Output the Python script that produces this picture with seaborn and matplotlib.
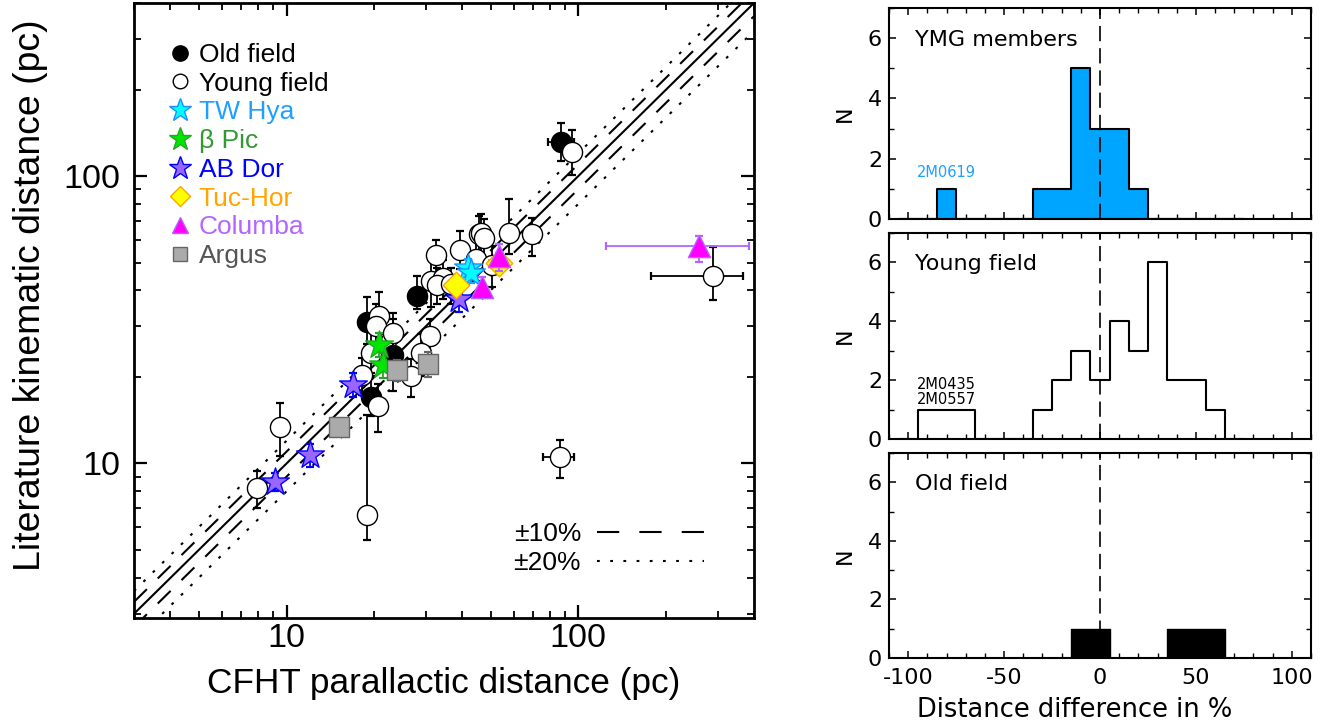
import numpy as np
import matplotlib
matplotlib.use("Agg")
import matplotlib.pyplot as plt
from matplotlib.lines import Line2D
from matplotlib.ticker import LogLocator, NullFormatter, MultipleLocator
from matplotlib import font_manager as fm
import seaborn as sns

# ---------------- data: left panel (parallactic vs kinematic distance, pc) ----
old_par = [87.5, 27.9, 18.9, 23.1, 19.5]
old_kin = [131.0, 38.4, 31.1, 23.9, 17.1]
old_kin_lo = [18.0, 4.0, 5.0, 6.0, 2.5]
old_kin_hi = [22.0, 6.4, 7.0, 8.0, 3.5]
old_par_lo = [9.0, 0, 0, 0, 0]
old_par_hi = [9.0, 0, 0, 0, 0]

young_par = [95.3, 290.0, 86.8, 9.5, 7.9, 18.9, 20.5, 18.2, 20.7, 20.3, 23.2, 19.5,
             30.9, 28.9, 26.7, 32.6, 39.3, 45.5, 46.5, 47.5, 58.0, 69.6, 31.2, 34.3,
             44.7, 50.7, 32.7, 36.5]
young_kin = [121.0, 44.8, 10.5, 13.4, 8.2, 6.6, 15.9, 20.3, 32.5, 30.0, 28.5, 24.2,
             27.7, 24.2, 20.1, 53.3, 55.5, 62.7, 63.5, 61.0, 63.5, 62.7, 43.1, 44.2,
             51.3, 49.2, 41.9, 42.0]
young_kin_lo = [20, 7.9, 1.6, 2.8, 1.2, 1.2, 3, 3, 5, 5, 5, 4,
                4, 4, 3, 8, 8, 9, 9, 9, 10, 10, 8, 7,
                8, 8, 6, 6]
young_kin_hi = [24, 11.9, 1.6, 2.8, 1.2, 8.1, 3, 3, 7, 6, 5, 5,
                4, 4, 3, 6.5, 9, 10, 10, 10, 19.5, 9, 8, 7,
                8, 8, 6, 6]
young_par_lo = [0, 112, 11] + [0] * 25
young_par_hi = [0, 76, 10] + [0] * 25

tw_par = [41.7, 42.8]
tw_kin = [47.9, 46.1]
tw_err = [3.5, 3.5]

bp_par = [20.8, 21.4]
bp_kin = [25.9, 22.0]
bp_err = [2.5, 2.2]

ab_par = [9.1, 12.0, 16.9, 39.1]
ab_kin = [8.64, 10.7, 18.8, 37.2]
ab_err = [0.6, 1.0, 1.8, 3.5]

th_par = [38.1, 53.6]
th_kin = [41.9, 50.0]
th_par_err = [1.5, 4.3]
th_kin_err = [3.0, 4.0]

co_par = [53.6, 46.9, 259.0]
co_kin = [52.6, 41.2, 57.0]
co_kin_lo = [6.0, 3.7, 6.8]
co_kin_hi = [5.2, 3.5, 4.8]
co_par_lo = [0, 0, 135.0]
co_par_hi = [0, 0, 126.0]

ar_par = [15.1, 24.0, 30.5]
ar_kin = [13.4, 21.2, 22.2]
ar_err = [0.8, 1.8, 2.2]

legend_labels = ["Old field", "Young field", "TW Hya", "\u03b2 Pic", "AB Dor",
                 "Tuc-Hor", "Columba", "Argus"]
legend_text_colors = ["black", "black", "#1EA0FF", "#339933", "#0000FF",
                      "#FFA500", "#B266FF", "#555555"]

# ---------------- data: right panels (histograms of distance difference, %) ----
hist_centers = [-100, -90, -80, -70, -60, -50, -40, -30, -20, -10, 0, 10, 20, 30, 40, 50, 60, 70]
bin_edges = [-105, -95, -85, -75, -65, -55, -45, -35, -25, -15, -5, 5, 15, 25, 35, 45, 55, 65, 75]
ymg_counts = [0, 0, 1, 0, 0, 0, 0, 1, 1, 5, 3, 3, 1, 0, 0, 0, 0, 0]
young_counts = [0, 1, 1, 1, 0, 0, 0, 1, 2, 3, 2, 4, 3, 6, 2, 2, 1, 0]
old_counts = [0, 0, 0, 0, 0, 0, 0, 0, 0, 1, 1, 0, 0, 0, 1, 1, 1, 0]
hist_xticks = [-100, -50, 0, 50, 100]
hist_yticks = [0, 2, 4, 6]

# ---------------- style ----------------
sns.set_style("ticks")
plt.rcParams.update({
    "lines.scale_dashes": False,
    "text.color": "black",
    "axes.labelcolor": "black",
    "xtick.color": "black",
    "ytick.color": "black",
    "axes.edgecolor": "black",
    "axes.unicode_minus": False,
})
REG = ["Liberation Sans", "DejaVu Sans"]
RIGHT = ["DejaVu Sans"]
plt.rcParams["font.family"] = RIGHT

_names = {f.name for f in fm.fontManager.ttflist}
if "Liberation Sans Narrow" in _names:
    LEFT_FONT = ["Liberation Sans Narrow", "DejaVu Sans"]
    XLAB_FS, YLAB_FS, TICK_FS = 31, 31.5, 30
else:
    LEFT_FONT = ["Liberation Sans", "DejaVu Sans"]
    XLAB_FS, YLAB_FS, TICK_FS = 25.4, 26.9, 24.6

fig = plt.figure(figsize=(13.34, 7.27), dpi=100)

# ================= left panel =================
axL = fig.add_axes([134 / 1334, 1 - 618 / 727, 620 / 1334, 615 / 727])
axL.set_xscale("log")
axL.set_yscale("log")
axL.set_xlim(3, 400)
axL.set_ylim(2.9, 400)

xs = np.array(axL.get_xlim())
axL.plot(xs, xs, color="black", lw=1.5, zorder=1)
for f in (1.1, 0.9):
    axL.plot(xs, xs * f, color="black", lw=1.5, dashes=(13, 11), zorder=1)
for f in (1.2, 0.8):
    axL.plot(xs, xs * f, color="black", lw=1.5, dashes=(2, 7.5), zorder=1)


def draw_group(px, py, ylo, yhi, xlo, xhi, marker, ms, face, edge, ecolor, z, mew=1.0):
    axL.errorbar(px, py, yerr=[ylo, yhi], xerr=[xlo, xhi], fmt="none", ecolor=ecolor,
                 elinewidth=1.3, capsize=3.2, capthick=1.6, zorder=z)
    sns.scatterplot(x=px, y=py, ax=axL, marker=marker, s=ms ** 2, color=face,
                    edgecolor=edge, linewidth=mew, zorder=z + 0.5, legend=False)


zeros2 = [0, 0]
draw_group(old_par, old_kin, old_kin_lo, old_kin_hi, old_par_lo, old_par_hi,
           "o", 14.5, "black", "black", "black", 3)
draw_group(young_par, young_kin, young_kin_lo, young_kin_hi, young_par_lo, young_par_hi,
           "o", 14.5, "white", "black", "black", 4)
draw_group(tw_par, tw_kin, tw_err, tw_err, zeros2, zeros2,
           "*", 21, "#00FFFF", "#1E90FF", "#1EA0FF", 5)
draw_group(bp_par, bp_kin, bp_err, bp_err, zeros2, zeros2,
           "*", 21, "#00E600", "#22AA22", "#22AA22", 6)
draw_group(ab_par, ab_kin, ab_err, ab_err, [0] * 4, [0] * 4,
           "*", 21, "#9966FF", "#0000FF", "#0000FF", 7)
draw_group(th_par, th_kin, th_kin_err, th_kin_err, th_par_err, th_par_err,
           "D", 13.5, "#FFFF00", "#FFA500", "#FFA500", 8)
draw_group(co_par, co_kin, co_kin_lo, co_kin_hi, co_par_lo, co_par_hi,
           "^", 16, "#FF00FF", "#B266FF", "#B266FF", 9)
draw_group(ar_par, ar_kin, ar_err, ar_err, [0] * 3, [0] * 3,
           "s", 14, "#AAAAAA", "#666666", "#666666", 10)

axL.set_xlim(3, 400)
axL.set_ylim(2.9, 400)
axL.xaxis.set_minor_locator(LogLocator(base=10, subs=range(2, 10), numticks=20))
axL.yaxis.set_minor_locator(LogLocator(base=10, subs=range(2, 10), numticks=20))
axL.xaxis.set_minor_formatter(NullFormatter())
axL.yaxis.set_minor_formatter(NullFormatter())
axL.set_xticks([10, 100], labels=["10", "100"], fontfamily=LEFT_FONT, fontsize=TICK_FS)
axL.set_yticks([10, 100], labels=["10", "100"], fontfamily=LEFT_FONT, fontsize=TICK_FS)
axL.tick_params(which="major", direction="in", top=True, right=True, length=9.5, width=1.6)
axL.tick_params(which="minor", direction="in", top=True, right=True, length=5, width=1.3)
axL.tick_params(axis="x", which="major", pad=3.5)
axL.tick_params(axis="y", which="major", pad=10)
for sp in axL.spines.values():
    sp.set_linewidth(2.0)
    sp.set_visible(True)
axL.set_xlabel("CFHT parallactic distance (pc)", fontsize=XLAB_FS, fontfamily=LEFT_FONT)
axL.xaxis.set_label_coords(0.5, -0.08)
axL.set_ylabel("Literature kinematic distance (pc)", fontsize=YLAB_FS, fontfamily=LEFT_FONT)
axL.yaxis.set_label_coords(-0.139, 0.525)

# legend with groups
handles = [
    Line2D([], [], ls="none", marker="o", ms=11, mfc="black", mec="black"),
    Line2D([], [], ls="none", marker="o", ms=10.5, mfc="white", mec="black", mew=1),
    Line2D([], [], ls="none", marker="*", ms=17, mfc="#00FFFF", mec="#1E90FF", mew=1),
    Line2D([], [], ls="none", marker="*", ms=17, mfc="#00E600", mec="#22AA22", mew=1),
    Line2D([], [], ls="none", marker="*", ms=17, mfc="#9966FF", mec="#0000FF", mew=1),
    Line2D([], [], ls="none", marker="D", ms=10.5, mfc="#FFFF00", mec="#FFA500", mew=1),
    Line2D([], [], ls="none", marker="^", ms=12, mfc="#FF00FF", mec="#B266FF", mew=1),
    Line2D([], [], ls="none", marker="s", ms=10.5, mfc="#AAAAAA", mec="#666666", mew=1),
]
leg1 = axL.legend(handles, legend_labels, loc="upper left", bbox_to_anchor=(0.053, 0.935),
                  frameon=False, prop={"family": REG, "size": 19}, handlelength=1.0,
                  handletextpad=0.2, labelspacing=0.18, borderpad=0, borderaxespad=0)
for t, c in zip(leg1.get_texts(), legend_text_colors):
    t.set_color(c)
axL.add_artist(leg1)

h2 = [Line2D([], [], color="black", lw=1.5, dashes=(16, 14.5)),
      Line2D([], [], color="black", lw=1.5, dashes=(2, 7.5))]
axL.legend(h2, ["\u00b110%", "\u00b120%"], loc="lower right", bbox_to_anchor=(0.919, 0.07),
           frameon=False, prop={"family": REG, "size": 19}, handlelength=4.05,
           handletextpad=0.6, markerfirst=False, labelspacing=0.18, borderpad=0,
           borderaxespad=0)

# ================= right panels =================
panel_rects = [
    [889 / 1334, 1 - 219 / 727, 422 / 1334, 211 / 727],
    [889 / 1334, 1 - 439 / 727, 422 / 1334, 206 / 727],
    [889 / 1334, 1 - 658 / 727, 422 / 1334, 205 / 727],
]
panel_titles = ["YMG members", "Young field", "Old field"]
axes_r = [fig.add_axes(r) for r in panel_rects]

sns.histplot(x=hist_centers, weights=ymg_counts, bins=bin_edges, element="step", fill=True,
             color="#00A5FF", alpha=1, edgecolor="black", linewidth=1.5, ax=axes_r[0])
sns.histplot(x=hist_centers, weights=young_counts, bins=bin_edges, element="step", fill=False,
             color="black", linewidth=1.5, ax=axes_r[1])
sns.histplot(x=hist_centers, weights=old_counts, bins=bin_edges, element="step", fill=True,
             color="black", alpha=1, edgecolor="black", linewidth=1.0, ax=axes_r[2])

for i, ax in enumerate(axes_r):
    ax.set_xlim(-110, 110)
    ax.set_ylim(0, 7)
    ax.axvline(0, color="black", lw=1.2, dashes=(11, 5), zorder=5)
    ax.set_xticks(hist_xticks)
    ax.set_yticks(hist_yticks)
    ax.xaxis.set_minor_locator(MultipleLocator(10))
    ax.yaxis.set_minor_locator(MultipleLocator(1))
    ax.tick_params(which="major", direction="in", top=True, right=True, length=5, width=1.1,
                   labelsize=16, pad=5)
    ax.tick_params(which="minor", direction="in", top=True, right=True, length=3.5, width=1.0)
    for sp in ax.spines.values():
        sp.set_linewidth(1.5)
        sp.set_visible(True)
    ax.set_ylabel("N", fontsize=16)
    ax.yaxis.set_label_coords(-0.08, 0.5)
    ax.text(0.062, 0.82, panel_titles[i], transform=ax.transAxes, fontsize=16, va="baseline")
    if i < 2:
        ax.tick_params(labelbottom=False)
        ax.set_xlabel("")
    else:
        ax.tick_params(axis="x", pad=7)
        ax.set_xlabel("Distance difference in %", fontsize=18.5)
        ax.xaxis.set_label_coords(0.441, -0.19)

axes_r[0].text(-80, 1.3, "2M0619", color="#1EA0FF", fontsize=10.5, ha="center", va="bottom")
axes_r[1].text(-80, 1.1, "2M0435\n2M0557", color="black", fontsize=10.5, ha="center",
               va="bottom", linespacing=1.0)

fig.savefig("out.png", dpi=100)
